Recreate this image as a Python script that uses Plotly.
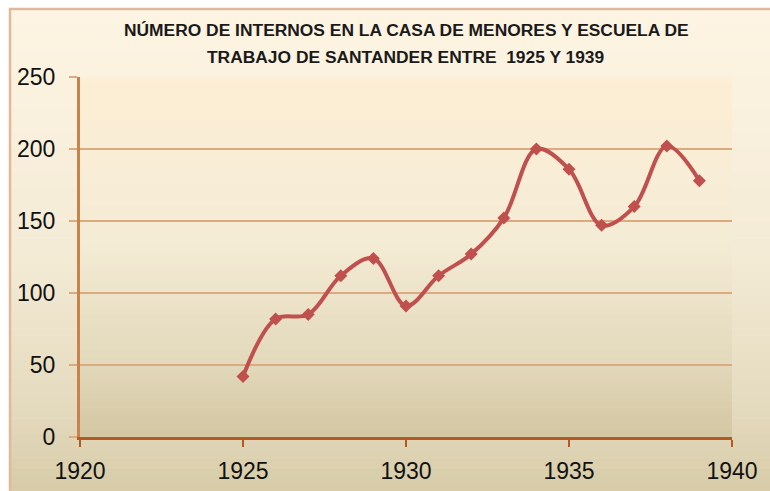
import plotly.graph_objects as go

years = [1925, 1926, 1927, 1928, 1929, 1930, 1931, 1932, 1933, 1934, 1935, 1936, 1937, 1938, 1939]
internos = [42, 82, 85, 112, 124, 91, 112, 127, 152, 200, 186, 147, 160, 202, 178]
x_ticks = [1920, 1925, 1930, 1935, 1940]
y_ticks = [0, 50, 100, 150, 200, 250]
title_lines = ["NÚMERO DE INTERNOS EN LA CASA DE MENORES Y ESCUELA DE",
               "TRABAJO DE SANTANDER ENTRE  1925 Y 1939"]

# layout geometry (pixels)
W, H = 770, 491
L, R, T, B = 80, 732, 77, 437
pw, ph = R - L, B - T


def px_x(px):
    return (px - L) / pw


def px_y(py):
    return (B - py) / ph


def hex2rgb(h):
    h = h.lstrip('#')
    return tuple(int(h[i:i + 2], 16) for i in (0, 2, 4))


def interp(stops, t):
    for (t0, c0), (t1, c1) in zip(stops, stops[1:]):
        if t0 <= t <= t1:
            f = (t - t0) / (t1 - t0) if t1 > t0 else 0
            a, b = hex2rgb(c0), hex2rgb(c1)
            return 'rgb(%d,%d,%d)' % tuple(round(a[i] + (b[i] - a[i]) * f) for i in range(3))
    return stops[-1][1]


shapes = []


def gradient(x0, x1, y0, y1, stops, n=60):
    for i in range(n):
        ya = y0 + (y1 - y0) * i / n
        yb = y0 + (y1 - y0) * (i + 1) / n + 0.6
        c = interp(stops, (i + 0.5) / n)
        shapes.append(dict(type='rect', xref='paper', yref='paper', layer='below',
                           x0=px_x(x0), x1=px_x(x1), y0=px_y(ya), y1=px_y(min(yb, y1)),
                           fillcolor=c, line=dict(width=0)))


outer_stops = [(0, '#FEF4E3'), (0.5, '#F4EBD6'), (0.8, '#E5DBBF'), (1, '#D6CAA6')]
inner_stops = [(0, '#FDEED5'), (0.45, '#F5ECD6'), (0.8, '#E2D8BB'), (1, '#D3C6A2')]
gradient(10, 780, 9, 500, outer_stops)
gradient(L, R, T, B, inner_stops, n=50)
# outer frame border
shapes.append(dict(type='rect', xref='paper', yref='paper', layer='below',
                   x0=px_x(10), x1=px_x(790), y0=px_y(9), y1=px_y(510),
                   line=dict(color='#E0B89A', width=2.5), fillcolor='rgba(0,0,0,0)'))

fig = go.Figure()
fig.add_trace(go.Scatter(
    x=years, y=internos, mode='lines+markers',
    line=dict(color='#C0504D', width=4, shape='spline', smoothing=1.0),
    marker=dict(symbol='diamond', size=10, color='#C0504D'),
    showlegend=False, hoverinfo='x+y'))

annotations = [
    dict(text='<b>%s</b>' % title_lines[0], xref='paper', yref='paper', x=0.5, y=px_y(30),
         xanchor='center', yanchor='middle', showarrow=False,
         font=dict(family='Liberation Sans', size=17.4, color='#1a1a1a')),
    dict(text='<b>%s</b>' % title_lines[1], xref='paper', yref='paper', x=0.5, y=px_y(57),
         xanchor='center', yanchor='middle', showarrow=False,
         font=dict(family='Liberation Sans', size=17.4, color='#1a1a1a')),
]

fig.update_layout(
    width=W, height=H, autosize=False,
    margin=dict(l=L, r=W - R, t=T, b=H - B, pad=0, autoexpand=False),
    paper_bgcolor='white', plot_bgcolor='rgba(0,0,0,0)',
    shapes=shapes, annotations=annotations,
    font=dict(family='Liberation Sans', size=23, color='#111111'),
)
fig.update_xaxes(range=[1920, 1940], tickvals=x_ticks, ticktext=[str(v) for v in x_ticks],
                 showgrid=False, zeroline=False, showline=True, linecolor='#B35A22', linewidth=2.5,
                 ticks='outside', ticklen=7, tickwidth=2, tickcolor='#B35A22',
                 ticklabelstandoff=5, fixedrange=True, automargin=False)
fig.update_yaxes(range=[0, 250], tickvals=y_ticks, ticktext=[str(v) for v in y_ticks],
                 showgrid=True, gridcolor='#DDAA80', gridwidth=2, zeroline=False,
                 showline=True, linecolor='#C8824E', linewidth=3,
                 ticks='outside', ticklen=8, tickwidth=2, tickcolor='#DDAA80',
                 ticklabelstandoff=9, fixedrange=True, automargin=False)

fig.write_html('out.html', config={'displayModeBar': False, 'responsive': False},
               post_script="document.body.style.margin='0';document.body.style.overflow='hidden';")
